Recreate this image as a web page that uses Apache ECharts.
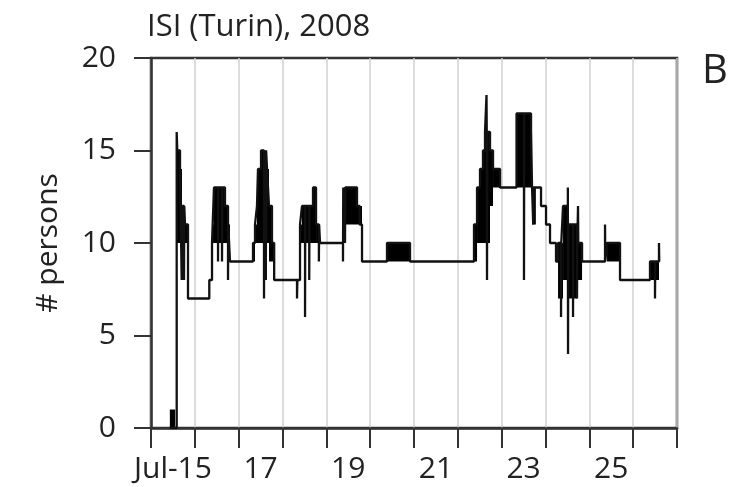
<!DOCTYPE html>
<html>
<head>
<meta charset="utf-8">
<script src="https://cdn.jsdelivr.net/npm/echarts@6/dist/echarts.min.js"></script>
<style>
html,body{margin:0;padding:0;background:#fff;}
#chart{width:735px;height:487px;}
</style>
</head>
<body>
<div id="chart"></div>
<script>
// x: days since Jul-15 00:00 (2008); y: number of persons
const tickLabels = ['Jul-15','','17','','19','','21','','23','','25',''];
const yTicks = [0, 5, 10, 15, 20];

// step trace (value holds from this time until the next one)
const traceDays = [
  0.43, 0.586, 0.600, 0.662, 0.700, 0.706, 0.753, 0.759, 0.776, 0.844, 1.330, 1.392,
  1.437, 1.529, 1.535, 1.620, 1.626, 1.688, 1.757, 1.763, 1.802,
  2.327, 2.373, 2.418, 2.441, 2.510, 2.578, 2.584, 2.620, 2.626, 2.647, 2.692, 2.760, 2.810,
  3.331, 3.340, 3.400, 3.445, 3.514, 3.520, 3.610, 3.616, 3.696, 3.765, 3.830, 3.836, 3.856,
  4.380, 4.386, 4.426, 4.432, 4.700, 4.760, 4.814,
  5.384, 5.909,
  7.369, 7.438, 7.506, 7.574, 7.620, 7.654, 7.660, 7.666, 7.672, 7.734, 7.803, 7.963,
  8.339, 8.509, 8.515, 8.670, 8.693, 8.720, 8.726, 8.898, 9.012, 9.103, 9.240,
  9.286, 9.354, 9.360, 9.400, 9.510, 9.514, 9.520, 9.628, 9.634, 9.719, 9.725, 9.742, 9.748, 9.834,
  10.358, 10.364, 10.404, 10.700, 11.384, 11.498, 11.504, 11.589, 11.595, 11.610
];
const traceValues = [
  0, 16, 15, 14, 8, 12, 8, 12, 11, 7, 8, 10,
  13, 9, 13, 9, 13, 12, 8, 11, 9,
  10, 11, 12, 14, 15, 7, 15, 8, 15, 14, 12, 10, 8,
  7, 8, 11, 12, 6, 12, 8, 12, 13, 11, 9, 11, 10,
  9, 13, 10, 13, 12, 11, 9,
  10, 9,
  11, 13, 14, 15, 16, 18, 16, 8, 16, 15, 14, 13,
  17, 8, 17, 16, 13, 11, 13, 12, 11, 10, 9,
  10, 6, 10, 12, 13, 4, 11, 6, 11, 7, 10, 12, 10, 9,
  11, 9, 10, 8, 9, 7, 9, 10, 9, 9
];

// densely oscillating stretches (drawn as solid blocks): start day, end day, low, high
const bandStart = [0.43, 0.593, 0.662, 0.707, 0.776, 1.392, 1.437, 1.688, 1.757,
  2.327, 2.373, 2.418, 2.441, 2.510, 2.647, 2.692, 2.760,
  3.400, 3.445, 3.696, 3.765, 4.400, 4.700, 5.384,
  7.369, 7.438, 7.506, 7.574, 7.620, 7.734, 7.803, 8.339, 8.670, 8.693,
  9.286, 9.400, 9.500, 9.720, 10.404, 11.384];
const bandEnd = [0.55, 0.662, 0.707, 0.776, 0.844, 1.437, 1.688, 1.757, 1.802,
  2.373, 2.418, 2.441, 2.510, 2.647, 2.692, 2.760, 2.810,
  3.445, 3.696, 3.765, 3.856, 4.700, 4.814, 5.909,
  7.438, 7.506, 7.574, 7.620, 7.734, 7.803, 7.963, 8.670, 8.693, 8.780,
  9.400, 9.500, 9.720, 9.834, 10.700, 11.589];
const bandLow = [0, 10, 10, 10, 10, 10, 10, 10, 9,
  9, 10, 10, 10, 10, 10, 9, 9,
  10, 10, 10, 10, 11, 11, 9,
  9, 10, 10, 10, 10, 12, 13, 13, 13, 11,
  7, 8, 7, 8, 9, 8];
const bandHigh = [1, 15, 14, 12, 11, 11, 13, 12, 11,
  10, 11, 12, 14, 15, 14, 12, 10,
  11, 12, 13, 11, 13, 12, 10,
  11, 13, 14, 15, 16, 15, 14, 17, 16, 13,
  10, 12, 11, 10, 10, 9];

const FONT = 'Open Sans';
const chart = echarts.init(document.getElementById('chart'), null, {renderer: 'canvas'});
const traceData = traceDays.map((d, i) => [d, traceValues[i]]);
const bandData = bandStart.map((s, i) => [s, bandEnd[i], bandLow[i], bandHigh[i]]);

chart.setOption({
  animation: false,
  backgroundColor: '#fff',
  grid: {left: 151, top: 58, width: 526, height: 370, show: true,
         borderColor: '#333', borderWidth: 2.5, backgroundColor: 'transparent'},
  graphic: [
    {type: 'text', left: 147, top: 12, style: {text: 'ISI (Turin), 2008', fontFamily: FONT, fontSize: 31, fill: '#222'}},
    {type: 'text', left: 702, top: 52, style: {text: 'B', fontFamily: FONT, fontSize: 40, fill: '#222'}}
  ],
  xAxis: [
    {type: 'value', min: 0, max: tickLabels.length, interval: 1,
     axisLine: {show: true, onZero: false, lineStyle: {color: '#333', width: 2.5}},
     axisTick: {show: true, length: 20, lineStyle: {color: '#333', width: 2}},
     axisLabel: {show: false},
     splitLine: {show: true, lineStyle: {color: '#d0d0d0', width: 1.5}}},
    {type: 'category', position: 'bottom', data: tickLabels, boundaryGap: true,
     axisLine: {show: false}, axisTick: {show: false}, splitLine: {show: false},
     axisLabel: {interval: 0, margin: 26, fontFamily: FONT, fontSize: 30, color: '#222'}}
  ],
  yAxis: {
    type: 'value', min: yTicks[0], max: yTicks[yTicks.length - 1], interval: yTicks[1] - yTicks[0],
    name: '# persons', nameLocation: 'middle', nameRotate: 90, nameGap: 88,
    nameTextStyle: {fontFamily: FONT, fontSize: 30, color: '#222'},
    axisLine: {show: true, lineStyle: {color: '#333', width: 2.5}},
    axisTick: {show: true, length: 17, lineStyle: {color: '#333', width: 2}},
    axisLabel: {margin: 35, fontFamily: FONT, fontSize: 30, color: '#222'},
    splitLine: {show: false}
  },
  series: [
    {type: 'custom', xAxisIndex: 0, yAxisIndex: 0, data: bandData,
     encode: {x: [0, 1], y: [2, 3]},
     renderItem: function (params, api) {
       const p0 = api.coord([api.value(0), api.value(3)]);
       const p1 = api.coord([api.value(1), api.value(2)]);
       return {type: 'rect', shape: {x: p0[0], y: p0[1], width: Math.max(p1[0] - p0[0], 1), height: p1[1] - p0[1]},
               style: {fill: '#000'}};
     }},
    {type: 'line', xAxisIndex: 0, yAxisIndex: 0, data: traceData, step: 'end',
     showSymbol: false, symbol: 'none', lineStyle: {color: '#111', width: 2.3}}
  ]
});
</script>
</body>
</html>
